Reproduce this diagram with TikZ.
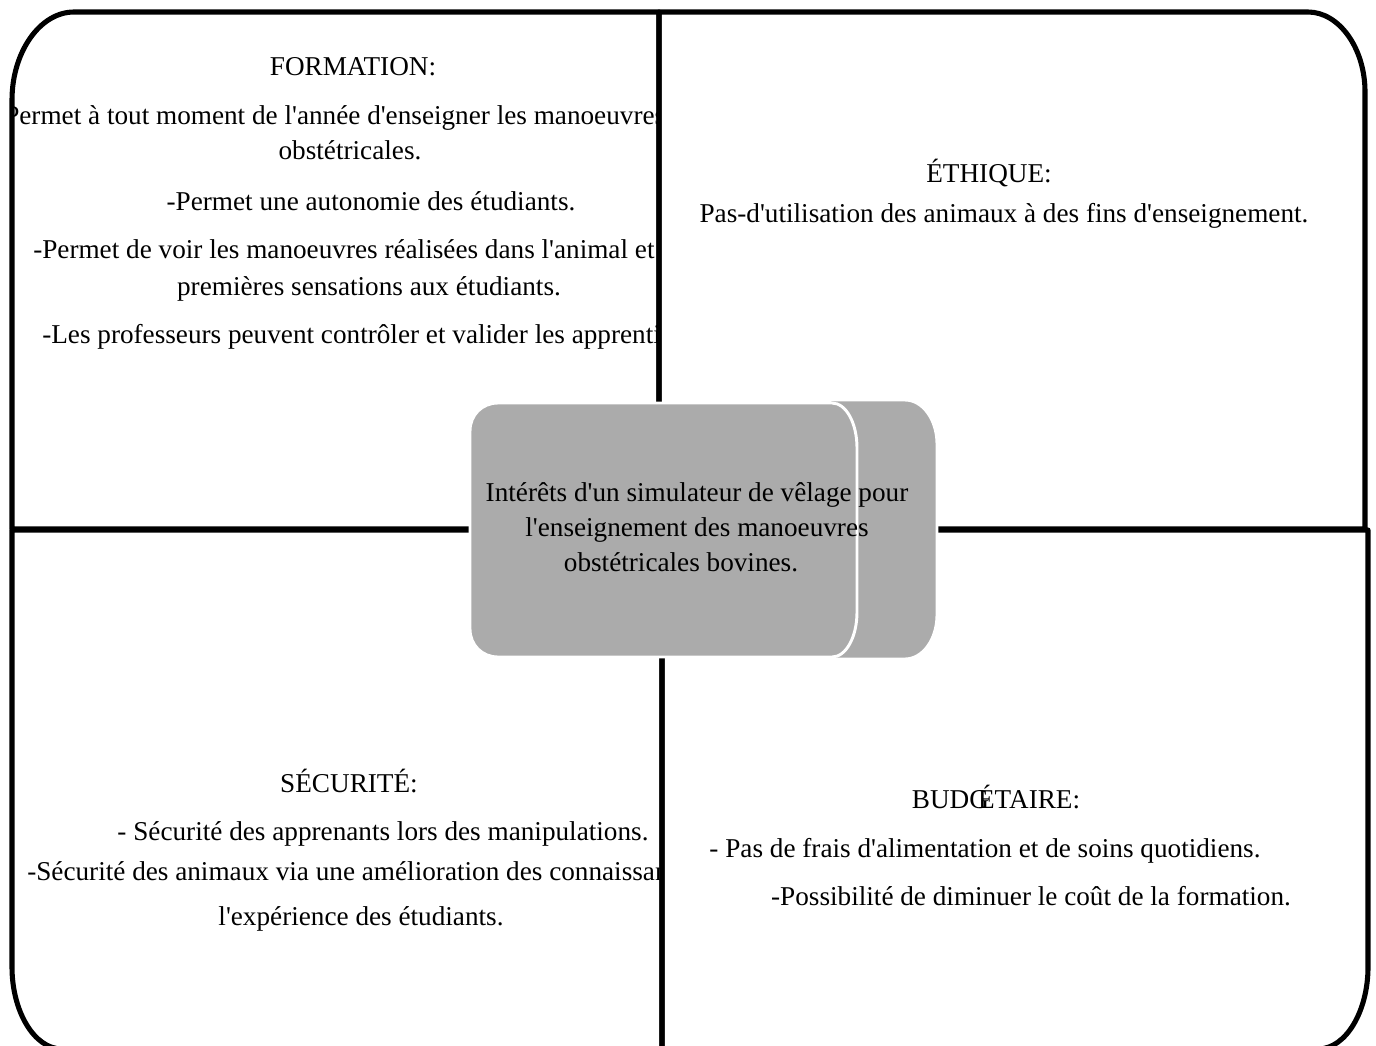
\documentclass[tikz,border=0pt]{standalone}
\usepackage{fontspec}
\setmainfont{Liberation Serif}[Ligatures=TeXOff]
\usetikzlibrary{positioning}

\definecolor{simgray}{RGB}{171,171,171}

\begin{document}
\begin{tikzpicture}[x=0.75pt, y=-0.75pt,
    frame/.style={line width=3.8pt, line join=round},
    txt/.style={font=\fontsize{20.4}{26.25}\selectfont, inner sep=0pt, anchor=base},
    cut/.style={txt, anchor=base west},
    blob/.style={fill=simgray, draw=white, line width=2.2pt}]
    \useasboundingbox (0,0) rectangle (1376,1045);

    % Quadrant 1: formation
    \begin{scope}
    \clip (12,12) rectangle (659,529);
    \node[txt] (form) at (353,76) {FORMATION:};
    \node[cut] (form1) at (4,125) {Permet à tout moment de l'année d'enseigner les manoeuvres};
    \node[txt] (form1b) at (350,160) {obstétricales.};
    \node[txt] (form2) at (371,210) {-Permet une autonomie des étudiants.};
    \node[cut] (form3) at (33,258) {-Permet de voir les manoeuvres réalisées dans l'animal et};
    \node[txt] (form3b) at (369,295) {premières sensations aux étudiants.};
    \node[cut] (form4) at (42,343) {-Les professeurs peuvent contrôler et valider les apprenti};
    \end{scope}

    % Quadrant 2: ethique
    \node[txt] (eth) at (989,182) {ÉTHIQUE:};
    \node[txt] (eth1) at (1004,222) {Pas-d'utilisation des animaux à des fins d'enseignement.};

    % Quadrant 3: securite
    \begin{scope}
    \clip (12,530) rectangle (662,1043);
    \node[txt] (sec) at (349,792) {SÉCURITÉ:};
    \node[txt] (sec1) at (383,840) {- Sécurité des apprenants lors des manipulations.};
    \node[cut] (sec2) at (27,880) {-Sécurité des animaux via une amélioration des connaissan};
    \node[txt] (sec2b) at (361,925) {l'expérience des étudiants.};
    \end{scope}

    % Quadrant 4: budget
    \node[txt] (bud) at (996,808) {BUDG\kern-0.4emÉTAIRE:};
    \node[txt] (bud1) at (985,857) {- Pas de frais d'alimentation et de soins quotidiens.};
    \node[txt] (bud2) at (1031,905) {-Possibilité de diminuer le coût de la formation.};

    % Frames, one rounded outer corner each
    \draw[frame] (12,529) -- (12,100) .. controls (12,52) and (40,12) .. (74,12)
        -- (659,12) -- (659,529) -- cycle;
    \draw[frame] (659,12) -- (1308,12) .. controls (1339,12) and (1365,48) .. (1365,92)
        -- (1365,529) -- (659,529) -- cycle;
    \draw[frame] (12,530) -- (662,530) -- (662,1049) -- (62,1049)
        .. controls (34,1049) and (12,1011) .. (12,967) -- cycle;
    \draw[frame] (662,530) -- (1368,530) -- (1368,967)
        .. controls (1368,1011) and (1346,1049) .. (1318,1049) -- (662,1049) -- cycle;

    % Central topic
    \draw[blob] (830,400) -- (905,400) .. controls (923,400) and (937,420) .. (937,444)
        -- (937,615) .. controls (937,639) and (923,659) .. (905,659) -- (830,659) -- cycle;
    \draw[blob] (498,403) -- (832,403) .. controls (846,403) and (857,423) .. (857,448)
        -- (857,612) .. controls (857,637) and (846,657) .. (832,657) -- (498,657)
        .. controls (482,657) and (470,645) .. (470,629) -- (470,431)
        .. controls (470,415) and (482,403) .. (498,403) -- cycle;
    \node[txt, anchor=center, align=center] (topic) at (697,527)
        {Intérêts d'un simulateur de vêlage pour\\
         l'enseignement des manoeuvres\hspace*{10.5pt}\\
         obstétricales bovines.\hspace*{24pt}};
\end{tikzpicture}
\end{document}
